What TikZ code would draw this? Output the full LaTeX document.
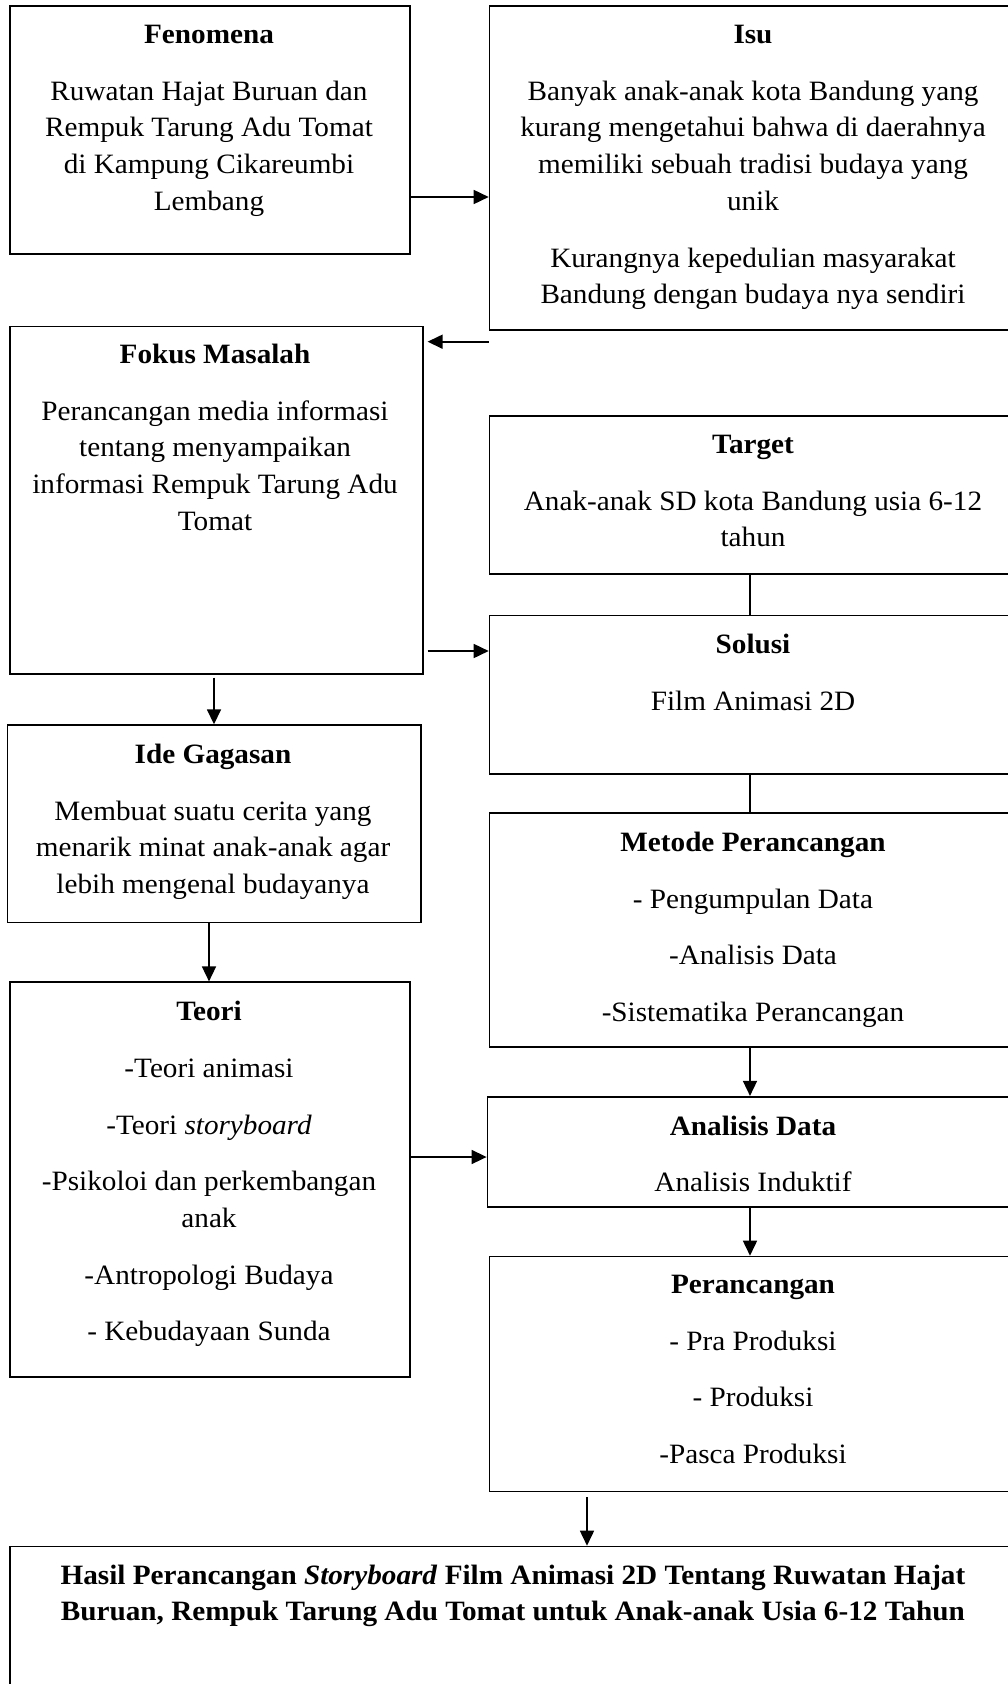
\documentclass[tikz,border=0pt]{standalone}
\usepackage{fontspec}
\setmainfont{Liberation Serif}[FakeStretch=1.043]
\usetikzlibrary{arrows.meta}
\newcommand{\fl}{\rule{0pt}{25pt}}
\begin{document}
\begin{tikzpicture}[x=1pt,y=-1pt,
  box/.style={draw, line width=1.6pt, rectangle, inner sep=0pt, anchor=north west},
  txt/.style={anchor=north, align=center, inner sep=0pt, font=\fontsize{28}{36.7}\selectfont},
  arr/.style={line width=1.6pt, -{Triangle[length=15pt,width=14pt]}},
  ln/.style={line width=1.6pt}]
\clip (0,0) rectangle (1008,1684);
\fill[white] (0,0) rectangle (1008,1684);
% boxes
\node[box, minimum width=400pt, minimum height=248pt] (fen) at (9,5) {};
\node[box, minimum width=530pt, minimum height=324pt] (isu) at (488.7,5) {};
\node[box, minimum width=413pt, minimum height=347.3pt] (fok) at (9,325.7) {};
\node[box, minimum width=530pt, minimum height=158.3pt] (tar) at (488.7,415) {};
\node[box, minimum width=530pt, minimum height=158.3pt] (sol) at (488.7,614.7) {};
\node[box, minimum width=413.3pt, minimum height=197.4pt] (ide) at (6.7,724.3) {};
\node[box, minimum width=400pt, minimum height=394.6pt] (teo) at (9,981.4) {};
\node[box, minimum width=530pt, minimum height=234.3pt] (met) at (488.7,812) {};
\node[box, minimum width=532pt, minimum height=110.1pt] (ana) at (486.6,1095.9) {};
\node[box, minimum width=530pt, minimum height=235pt] (per) at (488.7,1255.7) {};
\node[box, minimum width=1009pt, minimum height=200pt] (has) at (9,1545.7) {};
% texts
\node[txt] (tfen) at (209,18.3) {\fl\textbf{Fenomena}\\[20pt]
  Ruwatan Hajat Buruan dan\\ Rempuk Tarung Adu Tomat\\ di Kampung Cikareumbi\\ Lembang};
\node[txt] (tisu) at (753,18.3) {\fl\textbf{Isu}\\[20pt]
  Banyak anak-anak kota Bandung yang\\ kurang mengetahui bahwa di daerahnya\\
  memiliki sebuah tradisi budaya yang\\ unik\\[20pt]
  Kurangnya kepedulian masyarakat\\ Bandung dengan budaya nya sendiri};
\node[txt] (tfok) at (215,338.3) {\fl\textbf{Fokus Masalah}\\[20pt]
  Perancangan media informasi\\ tentang menyampaikan\\ informasi Rempuk Tarung Adu\\ Tomat};
\node[txt] (ttar) at (753,428.3) {\fl\textbf{Target}\\[20pt]
  Anak-anak SD kota Bandung usia 6-12\\ tahun};
\node[txt] (tsol) at (753,628.3) {\fl\textbf{Solusi}\\[20pt] Film Animasi 2D};
\node[txt] (tide) at (213,738.3) {\fl\textbf{Ide Gagasan}\\[20pt]
  Membuat suatu cerita yang\\ menarik minat anak-anak agar\\ lebih mengenal budayanya};
\node[txt] (tteo) at (209,995.4) {\fl\textbf{Teori}\\[20pt]
  -Teori animasi\\[20pt] -Teori \textit{storyboard}\\[20pt]
  -Psikoloi dan perkembangan\\ anak\\[20pt] -Antropologi Budaya\\[20pt] - Kebudayaan Sunda};
\node[txt] (tmet) at (753,826.2) {\fl\textbf{Metode Perancangan}\\[20pt]
  - Pengumpulan Data\\[20pt] -Analisis Data\\[20pt] -Sistematika Perancangan};
\node[txt] (tana) at (753,1109.9) {\fl\textbf{Analisis Data}\\[20pt] Analisis Induktif};
\node[txt] (tper) at (753,1268.3) {\fl\textbf{Perancangan}\\[20pt]
  - Pra Produksi\\[20pt] - Produksi\\[20pt] -Pasca Produksi};
\node[txt] (thas) at (513,1559) {\fl\textbf{Hasil Perancangan \textit{Storyboard} Film Animasi 2D Tentang Ruwatan Hajat}\\
  \textbf{Buruan, Rempuk Tarung Adu Tomat untuk Anak-anak Usia 6-12 Tahun}};
% connector helper coordinates
\coordinate (c1) at (0,197);
\coordinate (c2) at (0,341.7);
\coordinate (c3) at (0,651);
\coordinate (c4) at (214,0);
\coordinate (c5) at (209,0);
\coordinate (c6) at (0,1157);
\coordinate (c7) at (750,0);
\coordinate (c8) at (587,0);
% connectors
\draw[arr] (fen.east |- c1) -- (isu.west |- c1);
\draw[arr, shorten >=4pt] (isu.west |- c2) -- (fok.east |- c2);
\draw[arr, shorten <=4pt] (fok.east |- c3) -- (sol.west |- c3);
\draw[arr, shorten <=3pt] (fok.south -| c4) -- (ide.north -| c4);
\draw[arr] (ide.south -| c5) -- (teo.north -| c5);
\draw[arr] (teo.east |- c6) -- (ana.west |- c6);
\draw[ln] (tar.south -| c7) -- (sol.north -| c7);
\draw[ln] (sol.south -| c7) -- (met.north -| c7);
\draw[arr] (met.south -| c7) -- (ana.north -| c7);
\draw[arr] (ana.south -| c7) -- (per.north -| c7);
\draw[arr, shorten <=5pt] (per.south -| c8) -- (has.north -| c8);
\end{tikzpicture}
\end{document}
